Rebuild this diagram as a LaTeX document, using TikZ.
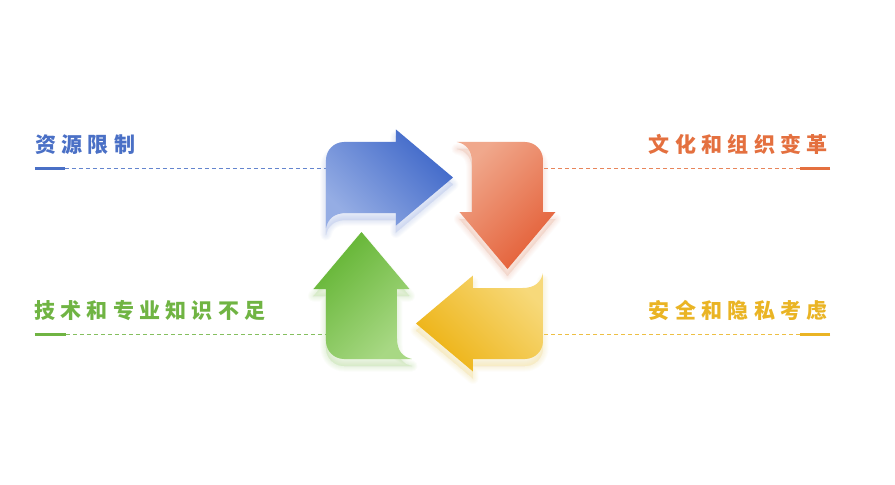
\documentclass[tikz,border=0pt]{standalone}
\usepackage{fontspec}
\newfontfamily\cjk{Noto Sans CJK SC}
\definecolor{cblue}{HTML}{4A70C6}
\definecolor{corange}{HTML}{E4703F}
\definecolor{cyellow}{HTML}{EAB424}
\definecolor{cgreen}{HTML}{70B443}
\definecolor{blueL}{HTML}{95ADE4}
\definecolor{blueD}{HTML}{3D66C8}
\definecolor{redL}{HTML}{F0A88C}
\definecolor{redD}{HTML}{E45E36}
\definecolor{yelL}{HTML}{F7D97A}
\definecolor{yelD}{HTML}{EDB212}
\definecolor{grnL}{HTML}{A8D884}
\definecolor{grnD}{HTML}{62B432}
\newcommand\chsp{\kern5.3pt}
\newcommand\arrowpath{(-108.5,22.5) -- (-108.5,90.5) arc[start angle=180,end angle=90,radius=18] -- (-38.5,108.5) -- (-38.5,121) -- (18.5,73) -- (-38.5,25) -- (-38.5,37.5) -- (-88,37.5) .. controls (-100,37.5) and (-106.5,32) .. (-108.5,22.5) -- cycle}
\newcommand\arrowshadow[2]{%
  \foreach \w in {1,3,5,7,9,11}{%
    \path[draw=#2, fill=#2, opacity=0.045, line width=\w pt, line join=round, yshift=-7pt, rotate=#1] \arrowpath;}}
\newcommand\arrowbody[4]{%
  \path[rotate=#1, top color=#3, bottom color=#2, shading angle=#4] \arrowpath;}
\tikzset{
  lbl/.style={inner sep=0pt, font=\cjk\bfseries\fontsize{21pt}{21pt}\selectfont},
  barline/.style={line width=3pt},
  dashline/.style={line width=0.8pt, dash pattern=on 4pt off 3pt, opacity=0.85}
}
\begin{document}
\begin{tikzpicture}[x=1pt,y=1pt]
\useasboundingbox[fill=white] (-434.5,-234.5) rectangle (460.5,250.5);
% labels
\node[lbl, text=cblue, anchor=base west] (l1) at (-399.5,98.5) {资\chsp 源\chsp 限\chsp 制};
\node[lbl, text=corange, anchor=base east] (l2) at (393.5,98.5) {文\chsp 化\chsp 和\chsp 组\chsp 织\chsp 变\chsp 革};
\node[lbl, text=cgreen, anchor=base west] (l3) at (-400.5,-67.5) {技\chsp 术\chsp 和\chsp 专\chsp 业\chsp 知\chsp 识\chsp 不\chsp 足};
\node[lbl, text=cyellow, anchor=base east] (l4) at (393.5,-67.5) {安\chsp 全\chsp 和\chsp 隐\chsp 私\chsp 考\chsp 虑};
% bars and dashed connectors
\coordinate (b1s) at (-399.5,82.5); \coordinate (b1e) at (-369.5,82.5); \coordinate (a1) at (-108.5,82.5);
\coordinate (b2s) at (395.5,82.5);  \coordinate (b2e) at (365.5,82.5);  \coordinate (a2) at (108.5,82.5);
\coordinate (b3s) at (-399.5,-83.5); \coordinate (b3e) at (-368.5,-83.5); \coordinate (a3) at (-108.5,-83.5);
\coordinate (b4s) at (395.5,-83.5);  \coordinate (b4e) at (365.5,-83.5);  \coordinate (a4) at (108.5,-83.5);
\draw[dashline, cblue] (b1e) -- (a1);
\draw[dashline, corange] (b2e) -- (a2);
\draw[dashline, cgreen] (b3e) -- (a3);
\draw[dashline, cyellow] (b4e) -- (a4);
\draw[barline, cblue] (b1s) -- (b1e);
\draw[barline, corange] (b2s) -- (b2e);
\draw[barline, cgreen] (b3s) -- (b3e);
\draw[barline, cyellow] (b4s) -- (b4e);
% shadows
\arrowshadow{0}{blueL}
\arrowshadow{-90}{redL}
\arrowshadow{-180}{yelL}
\arrowshadow{90}{grnL}
% arrows
\arrowbody{0}{blueL}{blueD}{-45}
\arrowbody{-90}{redL}{redD}{-135}
\arrowbody{-180}{yelL}{yelD}{135}
\arrowbody{90}{grnL}{grnD}{45}
\end{tikzpicture}
\end{document}
